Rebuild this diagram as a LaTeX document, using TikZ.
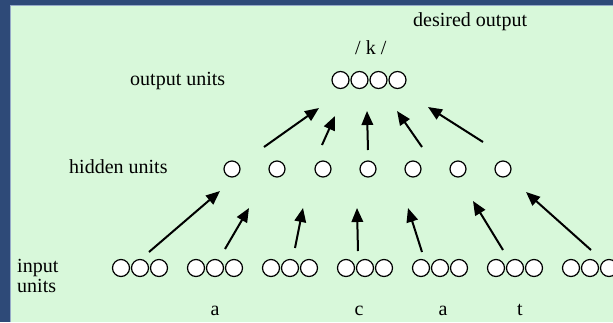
\documentclass[tikz,border=0pt]{standalone}
\usepackage{fontspec}
\setmainfont{Liberation Serif}
\usetikzlibrary{arrows.meta}
\definecolor{frameblue}{RGB}{46,74,120}
\definecolor{bggreen}{RGB}{216,248,218}
\definecolor{edgeline}{RGB}{150,170,200}
\begin{document}
\begin{tikzpicture}[x=1pt,y=-1pt,
  unit/.style={circle,draw=black,fill=white,line width=1.2pt,minimum size=17pt,inner sep=0pt},
  hunit/.style={unit,minimum size=16pt},
  lbl/.style={font=\fontsize{20}{22}\selectfont,anchor=base west,inner sep=0pt},
  letter/.style={font=\fontsize{20}{22}\selectfont,anchor=base,inner sep=0pt},
  conn/.style={line width=2pt,-{Triangle[length=14pt,width=11.5pt]}}]
\useasboundingbox (0,0) rectangle (613,322);
\fill[frameblue] (0,0) rectangle (613,322);
\fill[bggreen] (10,5) rectangle (613,322);
\draw[edgeline,line width=1pt] (10.5,322) -- (10.5,5.5) -- (613,5.5);
% labels
\node[lbl] (desired) at (413,26) {desired output};
\node[lbl] (k) at (355,54) {/ k /};
\node[lbl] (outlbl) at (130,85) {output units};
\node[lbl] (hidlbl) at (69,173) {hidden units};
\node[lbl] (inlbl1) at (17,272) {input};
\node[lbl] (inlbl2) at (17,292) {units};
\node[letter] (l1) at (215,315) {a};
\node[letter] (l2) at (359,315) {c};
\node[letter] (l3) at (443,315) {a};
\node[letter] (l4) at (520,315) {t};
% output units
\foreach \i/\x in {1/340.5,2/359.5,3/378.5,4/397.5}
  \node[unit] (o\i) at (\x,80) {};
% hidden units
\foreach \i/\x in {1/232,2/277,3/323,4/368,5/413,6/458,7/503}
  \node[hunit] (h\i) at (\x,169) {};
% input units
\foreach \g/\c in {1/140,2/215,3/290,4/365,5/440,6/515,7/590}{
  \node[unit] (in\g a) at (\c-19,268) {};
  \node[unit] (in\g b) at (\c,268) {};
  \node[unit] (in\g c) at (\c+19,268) {};
}
% lower arrows
\coordinate (ls1) at (149,252); \coordinate (le1) at (220,191);
\coordinate (ls2) at (225,249); \coordinate (le2) at (249,208);
\coordinate (ls3) at (295,248); \coordinate (le3) at (303,208);
\coordinate (ls4) at (358,251); \coordinate (le4) at (357,208);
\coordinate (ls5) at (422,252); \coordinate (le5) at (408,208);
\coordinate (ls6) at (503,250); \coordinate (le6) at (473,201);
\coordinate (ls7) at (591,250); \coordinate (le7) at (526,192);
\foreach \i in {1,...,7} \draw[conn] (ls\i) -- (le\i);
% upper arrows
\coordinate (us1) at (264,147); \coordinate (ue1) at (319,108);
\coordinate (us2) at (322,145); \coordinate (ue2) at (335,116);
\coordinate (us3) at (368,150); \coordinate (ue3) at (367,111);
\coordinate (us4) at (422,147); \coordinate (ue4) at (397,111);
\coordinate (us5) at (483,142); \coordinate (ue5) at (428,107);
\foreach \i in {1,...,5} \draw[conn] (us\i) -- (ue\i);
\end{tikzpicture}
\end{document}
